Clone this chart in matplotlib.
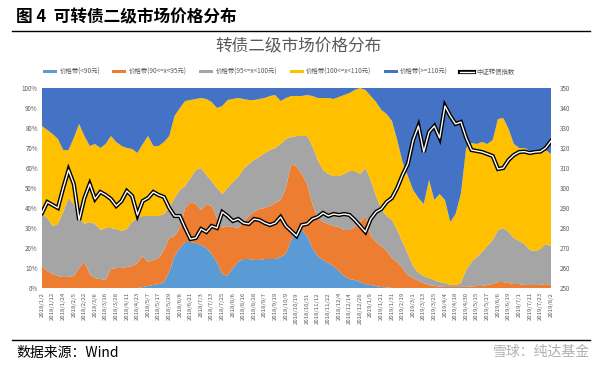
import numpy as np
import matplotlib
matplotlib.use('Agg')
import matplotlib.pyplot as plt
from matplotlib.patches import Patch
from matplotlib.lines import Line2D

plt.rcParams['font.family'] = ['Noto Sans CJK SC', 'DejaVu Sans']

tick_dates = ['2018/1/2', '2018/1/12', '2018/1/24', '2018/2/5', '2018/2/22', '2018/3/6',
              '2018/3/16', '2018/3/28', '2018/4/11', '2018/4/23', '2018/5/7', '2018/5/17',
              '2018/5/29', '2018/6/8', '2018/6/21', '2018/7/3', '2018/7/13', '2018/7/25',
              '2018/8/6', '2018/8/16', '2018/8/28', '2018/9/7', '2018/9/19', '2018/10/9',
              '2018/10/19', '2018/10/31', '2018/11/12', '2018/11/22', '2018/12/4',
              '2018/12/14', '2018/12/26', '2019/1/9', '2019/1/21', '2019/1/31', '2019/2/19',
              '2019/3/1', '2019/3/13', '2019/3/25', '2019/4/4', '2019/4/18', '2019/4/30',
              '2019/5/15', '2019/5/27', '2019/6/6', '2019/6/19', '2019/7/1', '2019/7/11',
              '2019/7/23', '2019/8/2']

# shares of each price band (%), sampled twice per labelled date
below90 = [0, 0, 0, 0, 0, 0, 0, 0, 0, 0, 0, 0, 0, 0, 0, 0, 0, 0, 0, 0.5,
           1, 1.5, 2, 3, 8, 16, 20, 23, 23, 22.5, 21.5, 20, 17, 13, 7, 6, 10, 13, 14.5, 14.5,
           14, 14, 14.5, 14.5, 14.5, 15.5, 17, 24, 29, 29, 26, 20, 16, 14, 12.5, 11, 8.5, 6, 4.5, 4,
           3, 2, 1.5, 1, 0.5, 0.3, 0, 0, 0, 0, 0, 0, 0, 0, 0, 0, 0, 0, 0, 0,
           0, 0, 0, 0, 0, 0, 0, 0, 0, 0, 0, 0, 0, 0, 0, 0, 0]
band90_95 = [11, 8.5, 7, 6, 5.5, 5.5, 6, 10, 13, 7, 5, 4.5, 4, 9.5, 10, 10, 10.5, 11, 12.5, 15.5,
             12, 12.5, 13, 16, 17, 10, 10, 17, 20, 19.5, 17.5, 22, 24, 22, 23, 25, 20.5, 17, 18.5, 21.5,
             24, 25.5, 25.5, 26.5, 28, 28.5, 33, 38, 32, 28, 26, 22, 19, 19, 19.5, 20, 22, 23, 24.5, 26.5,
             30, 34, 24.5, 22, 20.5, 18.2, 15, 13, 10, 6.5, 5, 3.5, 2.5, 1.5, 1, 0.8, 0.5, 0.5, 0.5, 0.5,
             0.5, 0.8, 1, 1, 1.5, 2, 3, 3, 2.5, 2, 2, 1.5, 1.5, 1.5, 1.5, 2, 1.5]
band95_100 = [26, 26.5, 24, 26, 32.5, 39.5, 36, 25, 19, 26, 27, 24.5, 26, 20.5, 19.5, 18.5, 19, 22, 22.5, 20,
              23, 22, 21, 18, 15, 19, 19, 11, 12, 17, 21, 14.5, 12.5, 15, 17, 19, 22.5, 25.5, 26.5, 26,
              26, 26, 27.5, 28, 27.5, 28, 24.5, 13.5, 15, 19, 24, 29, 29, 26, 25, 25, 25.5, 28, 29.5, 28,
              24, 24, 28, 23, 18.5, 17.5, 19, 16, 13, 10.5, 6, 4, 3.5, 3.5, 3, 2.2, 2, 1, 1, 2,
              8.5, 12.2, 14.5, 17, 19.5, 22, 26, 27, 25.5, 23, 21.5, 20.5, 17.5, 17, 18, 20, 19.5]
band100_110 = [44, 44, 46, 42.5, 31, 24, 33, 47, 44, 38, 40, 41, 42, 46, 43.5, 42.5, 40.5, 36.5, 32.5, 36,
               40, 35, 35, 36, 36, 41, 41, 42.5, 39, 35.5, 35, 38, 39.5, 40, 44, 44, 41.5, 39.5, 35, 32,
               30, 29, 27.5, 27, 26.5, 21.5, 20.5, 20.5, 20, 20, 20.5, 25, 31, 36, 38, 38.5, 39.5, 39.5, 39, 40.5,
               43, 39, 42, 47, 49.5, 51, 49.5, 45, 40, 39, 38, 37.5, 36, 49, 40, 44, 41.5, 31.5, 35.5, 44.5,
               61, 59.5, 56.5, 55, 51, 50, 55.5, 55, 51.5, 47, 46.5, 48, 49.5, 50, 49, 47, 46]
above110 = [19, 21, 23, 25.5, 31, 31, 25, 18, 24, 29, 28, 30, 28, 24, 27, 29, 30, 30.5, 32.5, 28,
            24, 29, 29, 27, 24, 14, 10, 6.5, 6, 5.5, 5, 5.5, 7, 10, 9, 6, 5.5, 5, 5.5, 6,
            6, 5.5, 5, 4, 3.5, 6.5, 5, 4, 4, 4, 3.5, 4, 5, 5, 5, 5.5, 4.5, 3.5, 2.5, 1,
            0, 1, 4, 7, 11, 13, 16.5, 26, 37, 44, 51, 55, 58, 46, 56, 53, 56, 67, 63, 53,
            30, 27.5, 28, 27, 28, 26, 15.5, 15, 20.5, 28, 30, 30, 31.5, 31.5, 31.5, 31, 33]
cb_index = [287.5, 293, 291.5, 290, 300, 309, 302, 284, 295, 302, 294.5, 298, 296.5, 294.5, 291, 293.5,
            298.5, 296, 286.5, 293.5, 295, 298, 296.5, 295.5, 290, 286, 286, 280, 274.5, 275, 279.5, 278,
            281, 280, 288, 286, 283.5, 284.5, 282.5, 282, 284.5, 284, 282.5, 281.5, 282.5, 285.5, 281, 278.5,
            276, 281.5, 282, 284.5, 285.5, 287.5, 286, 287, 286.5, 287, 286.5, 284, 281, 278, 284.5, 288,
            289.5, 293, 295, 300, 306.5, 312, 324, 331, 318, 328, 331, 325, 341, 336, 332, 333,
            325, 319, 318.5, 318, 317, 316, 309.5, 310, 314, 316.5, 318, 318.2, 317.5, 318, 318.2, 320, 323.5]

band_labels = ['价格带(<90元)', '价格带(90<=x<95元)', '价格带(95<=x<100元)',
               '价格带(100<=x<110元)', '价格带(>=110元)']
index_label = '中证转债指数'
colors = ['#5B9BD5', '#ED7D31', '#A5A5A5', '#FFC000', '#4472C4']

x = np.arange(len(below90)) / 2.0

fig = plt.figure(figsize=(6.0, 3.68), dpi=100)
W, H = 600, 368
ax = fig.add_axes([42 / W, 1 - 288 / H, (551 - 42) / W, 200 / H])
ax.stackplot(x, below90, band90_95, band95_100, band100_110, above110,
             colors=colors, linewidth=0)
ax.set_xlim(0, x[-1])
ax.set_ylim(0, 100)
ax.set_yticks(np.arange(0, 101, 10))
ax.set_yticklabels([f'{v}%' for v in range(0, 101, 10)], fontsize=4.5, color='#595959')
ax.set_xticks(np.arange(len(tick_dates)))
ax.set_xticklabels(tick_dates, rotation=90, fontsize=4.3, color='#595959')
ax.tick_params(length=0, pad=3)
for s in ax.spines.values():
    s.set_visible(False)

ax2 = ax.twinx()
ax2.plot(x, cb_index, color='black', lw=3.0, solid_joinstyle='miter')
ax2.plot(x, cb_index, color='white', lw=1.0)
ax2.set_ylim(250, 350)
ax2.set_yticks(np.arange(250, 351, 10))
ax2.tick_params(length=0, labelsize=4.5, labelcolor='#595959', pad=6)
for s in ax2.spines.values():
    s.set_visible(False)

handles = [Patch(facecolor=c, edgecolor='none') for c in colors]
handles.append((Line2D([], [], color='black', lw=3.0), Line2D([], [], color='white', lw=1.0)))
fig.legend(handles, band_labels + [index_label], loc='center',
           bbox_to_anchor=(279 / W, 1 - 72 / H), ncol=6, frameon=False,
           fontsize=4.6, handlelength=2.2, handleheight=0.35, columnspacing=1.9,
           handletextpad=0.4, labelcolor='#595959')

fig.text(298 / W, 1 - 46 / H, '转债二级市场价格分布', ha='center', va='center',
         fontsize=12, color='#595959')
fig.text(16 / W, 1 - 17 / H, '图 4  可转债二级市场价格分布', ha='left', va='center',
         fontsize=12, fontweight='bold', color='black')
fig.add_artist(Line2D([12 / W, 590 / W], [1 - 31 / H, 1 - 31 / H], color='black', lw=1.0))
fig.add_artist(Line2D([12 / W, 590 / W], [1 - 340 / H, 1 - 340 / H], color='black', lw=1.0))
fig.text(16 / W, 1 - 353 / H, '数据来源：Wind', ha='left', va='center',
         fontsize=10, color='black')
fig.text(590 / W, 1 - 352 / H, '雪球：纯达基金', ha='right', va='center',
         fontsize=10, color='#b0b0b0')

fig.savefig('out.png', dpi=100)
